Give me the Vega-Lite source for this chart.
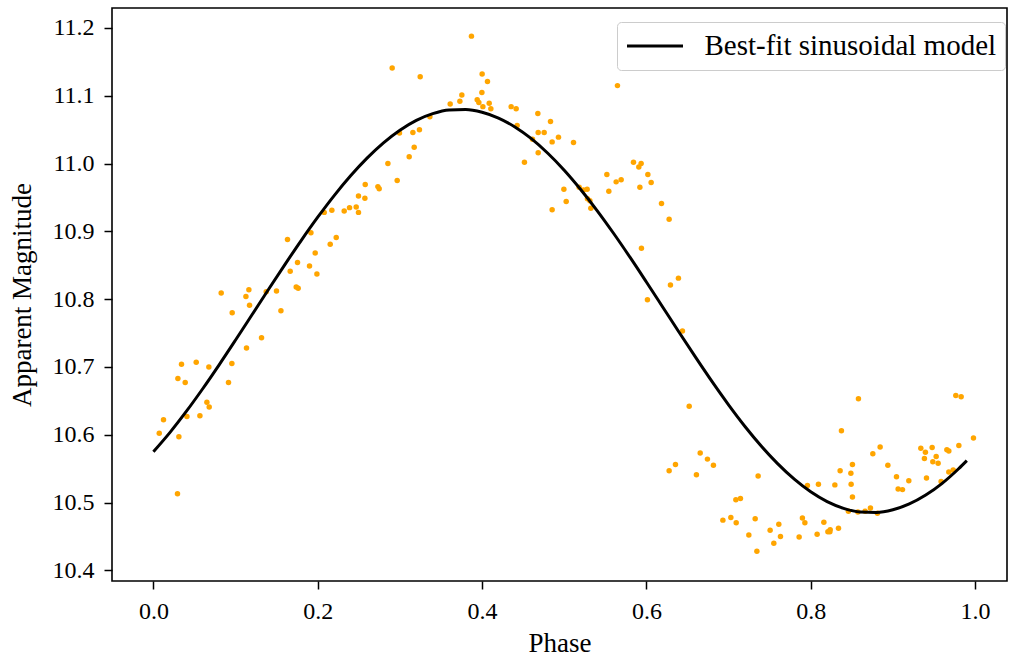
{
  "$schema": "https://vega.github.io/schema/vega-lite/v6.json",
  "width": 895,
  "height": 573,
  "autosize": {"type": "none"},
  "padding": {"left": 112, "top": 8, "right": 2, "bottom": 78},
  "background": "white",
  "config": {
    "view": {"stroke": "black", "strokeWidth": 1.6},
    "font": "Liberation Serif",
    "axis": {
      "labelFont": "Liberation Serif",
      "titleFont": "Liberation Serif",
      "labelFontSize": 24,
      "titleFontSize": 27,
      "titleFontWeight": "normal",
      "labelColor": "black",
      "titleColor": "black",
      "domain": false,
      "tickColor": "black",
      "tickSize": 8,
      "tickWidth": 1.5,
      "grid": false
    },
    "legend": {
      "labelFont": "Liberation Serif",
      "labelFontSize": 29,
      "labelColor": "black",
      "labelLimit": 600
    }
  },
  "datasets": {
    "obs": [
      {"phase": 0.2496, "mag": 10.952}, {"phase": 0.2079, "mag": 10.928}, {"phase": 0.2172, "mag": 10.931},
      {"phase": 0.2322, "mag": 10.930}, {"phase": 0.2387, "mag": 10.935}, {"phase": 0.2468, "mag": 10.936},
      {"phase": 0.2496, "mag": 10.928}, {"phase": 0.1632, "mag": 10.888}, {"phase": 0.1917, "mag": 10.898},
      {"phase": 0.2152, "mag": 10.881}, {"phase": 0.2225, "mag": 10.891}, {"phase": 0.1969, "mag": 10.868},
      {"phase": 0.1754, "mag": 10.854}, {"phase": 0.1665, "mag": 10.841}, {"phase": 0.1900, "mag": 10.849},
      {"phase": 0.1990, "mag": 10.837}, {"phase": 0.1738, "mag": 10.818}, {"phase": 0.1762, "mag": 10.816},
      {"phase": 0.0825, "mag": 10.809}, {"phase": 0.1162, "mag": 10.814}, {"phase": 0.1126, "mag": 10.804},
      {"phase": 0.1373, "mag": 10.811}, {"phase": 0.1498, "mag": 10.812}, {"phase": 0.1170, "mag": 10.791},
      {"phase": 0.0959, "mag": 10.780}, {"phase": 0.1552, "mag": 10.783}, {"phase": 0.1316, "mag": 10.743},
      {"phase": 0.1133, "mag": 10.728}, {"phase": 0.0342, "mag": 10.704}, {"phase": 0.0521, "mag": 10.707},
      {"phase": 0.0675, "mag": 10.700}, {"phase": 0.0955, "mag": 10.705}, {"phase": 0.0298, "mag": 10.683},
      {"phase": 0.0387, "mag": 10.677}, {"phase": 0.0914, "mag": 10.677}, {"phase": 0.0651, "mag": 10.648},
      {"phase": 0.0679, "mag": 10.641}, {"phase": 0.0123, "mag": 10.622}, {"phase": 0.0408, "mag": 10.627},
      {"phase": 0.0566, "mag": 10.628}, {"phase": 0.0071, "mag": 10.602}, {"phase": 0.0310, "mag": 10.597},
      {"phase": 0.0293, "mag": 10.513}, {"phase": 0.3871, "mag": 11.188}, {"phase": 0.2906, "mag": 11.141},
      {"phase": 0.3247, "mag": 11.128}, {"phase": 0.4001, "mag": 11.132}, {"phase": 0.4066, "mag": 11.121},
      {"phase": 0.3998, "mag": 11.105}, {"phase": 0.3754, "mag": 11.101}, {"phase": 0.3612, "mag": 11.088},
      {"phase": 0.3730, "mag": 11.092}, {"phase": 0.3941, "mag": 11.094}, {"phase": 0.3961, "mag": 11.090},
      {"phase": 0.4010, "mag": 11.084}, {"phase": 0.4087, "mag": 11.089}, {"phase": 0.4107, "mag": 11.081},
      {"phase": 0.4354, "mag": 11.084}, {"phase": 0.4415, "mag": 11.081}, {"phase": 0.3365, "mag": 11.069},
      {"phase": 0.4679, "mag": 11.074}, {"phase": 0.4833, "mag": 11.062}, {"phase": 0.4427, "mag": 11.056},
      {"phase": 0.2995, "mag": 11.045}, {"phase": 0.3158, "mag": 11.046}, {"phase": 0.3238, "mag": 11.050},
      {"phase": 0.4683, "mag": 11.046}, {"phase": 0.4756, "mag": 11.046}, {"phase": 0.4930, "mag": 11.039},
      {"phase": 0.4614, "mag": 11.036}, {"phase": 0.4853, "mag": 11.032}, {"phase": 0.5113, "mag": 11.031},
      {"phase": 0.3174, "mag": 11.024}, {"phase": 0.3113, "mag": 11.010}, {"phase": 0.4683, "mag": 11.016},
      {"phase": 0.4516, "mag": 11.002}, {"phase": 0.2854, "mag": 11.000}, {"phase": 0.2967, "mag": 10.975},
      {"phase": 0.2578, "mag": 10.969}, {"phase": 0.2732, "mag": 10.966}, {"phase": 0.2748, "mag": 10.963},
      {"phase": 0.2574, "mag": 10.949}, {"phase": 0.4853, "mag": 10.932}, {"phase": 0.4996, "mag": 10.962},
      {"phase": 0.5024, "mag": 10.944}, {"phase": 0.5182, "mag": 10.965}, {"phase": 0.5234, "mag": 10.961},
      {"phase": 0.5279, "mag": 10.962}, {"phase": 0.5283, "mag": 10.948}, {"phase": 0.5312, "mag": 10.945},
      {"phase": 0.5324, "mag": 10.934}, {"phase": 0.5519, "mag": 10.984}, {"phase": 0.5543, "mag": 10.959},
      {"phase": 0.5632, "mag": 10.973}, {"phase": 0.5693, "mag": 10.976}, {"phase": 0.5843, "mag": 11.002},
      {"phase": 0.5936, "mag": 11.000}, {"phase": 0.5908, "mag": 10.995}, {"phase": 0.6018, "mag": 10.984},
      {"phase": 0.6058, "mag": 10.972}, {"phase": 0.5921, "mag": 10.965}, {"phase": 0.6184, "mag": 10.941},
      {"phase": 0.6277, "mag": 10.918}, {"phase": 0.5940, "mag": 10.875}, {"phase": 0.6390, "mag": 10.831},
      {"phase": 0.6293, "mag": 10.821}, {"phase": 0.6013, "mag": 10.799}, {"phase": 0.6439, "mag": 10.753},
      {"phase": 0.5648, "mag": 11.115}, {"phase": 0.6521, "mag": 10.642}, {"phase": 0.8581, "mag": 10.653},
      {"phase": 0.9766, "mag": 10.658}, {"phase": 0.9831, "mag": 10.656}, {"phase": 0.8374, "mag": 10.606},
      {"phase": 0.9981, "mag": 10.595}, {"phase": 0.6655, "mag": 10.573}, {"phase": 0.6743, "mag": 10.564},
      {"phase": 0.6816, "mag": 10.555}, {"phase": 0.6354, "mag": 10.556}, {"phase": 0.6277, "mag": 10.547},
      {"phase": 0.6609, "mag": 10.541}, {"phase": 0.7360, "mag": 10.539}, {"phase": 0.8756, "mag": 10.572},
      {"phase": 0.8845, "mag": 10.582}, {"phase": 0.8939, "mag": 10.555}, {"phase": 0.8508, "mag": 10.556},
      {"phase": 0.8358, "mag": 10.547}, {"phase": 0.8489, "mag": 10.543}, {"phase": 0.9340, "mag": 10.580},
      {"phase": 0.9478, "mag": 10.581}, {"phase": 0.9396, "mag": 10.574}, {"phase": 0.9527, "mag": 10.568},
      {"phase": 0.9384, "mag": 10.565}, {"phase": 0.9486, "mag": 10.560}, {"phase": 0.9551, "mag": 10.558},
      {"phase": 0.9657, "mag": 10.578}, {"phase": 0.9681, "mag": 10.576}, {"phase": 0.9803, "mag": 10.584},
      {"phase": 0.9044, "mag": 10.538}, {"phase": 0.9409, "mag": 10.536}, {"phase": 0.9194, "mag": 10.532},
      {"phase": 0.9587, "mag": 10.531}, {"phase": 0.9681, "mag": 10.545}, {"phase": 0.9734, "mag": 10.548},
      {"phase": 0.9064, "mag": 10.520}, {"phase": 0.9117, "mag": 10.519}, {"phase": 0.7960, "mag": 10.525},
      {"phase": 0.8094, "mag": 10.527}, {"phase": 0.8294, "mag": 10.526}, {"phase": 0.8492, "mag": 10.527},
      {"phase": 0.8508, "mag": 10.508}, {"phase": 0.8459, "mag": 10.487}, {"phase": 0.8574, "mag": 10.486},
      {"phase": 0.8662, "mag": 10.487}, {"phase": 0.8727, "mag": 10.492}, {"phase": 0.8812, "mag": 10.484},
      {"phase": 0.7089, "mag": 10.504}, {"phase": 0.7145, "mag": 10.506}, {"phase": 0.6931, "mag": 10.474},
      {"phase": 0.7028, "mag": 10.478}, {"phase": 0.7093, "mag": 10.470}, {"phase": 0.7324, "mag": 10.476},
      {"phase": 0.7247, "mag": 10.452}, {"phase": 0.7506, "mag": 10.459}, {"phase": 0.7612, "mag": 10.468},
      {"phase": 0.7632, "mag": 10.450}, {"phase": 0.7551, "mag": 10.440}, {"phase": 0.7345, "mag": 10.428},
      {"phase": 0.7899, "mag": 10.477}, {"phase": 0.7929, "mag": 10.470}, {"phase": 0.8160, "mag": 10.471},
      {"phase": 0.7859, "mag": 10.449}, {"phase": 0.8078, "mag": 10.453}, {"phase": 0.8209, "mag": 10.457},
      {"phase": 0.8237, "mag": 10.460}, {"phase": 0.8233, "mag": 10.457}, {"phase": 0.8338, "mag": 10.462}
    ],
    "model": [
      {"phase": 0.00, "mag": 10.5749, "series": "Best-fit sinusoidal model"},
      {"phase": 0.02, "mag": 10.6031, "series": "Best-fit sinusoidal model"},
      {"phase": 0.04, "mag": 10.6343, "series": "Best-fit sinusoidal model"},
      {"phase": 0.06, "mag": 10.6678, "series": "Best-fit sinusoidal model"},
      {"phase": 0.08, "mag": 10.7031, "series": "Best-fit sinusoidal model"},
      {"phase": 0.10, "mag": 10.7397, "series": "Best-fit sinusoidal model"},
      {"phase": 0.12, "mag": 10.7769, "series": "Best-fit sinusoidal model"},
      {"phase": 0.14, "mag": 10.8142, "series": "Best-fit sinusoidal model"},
      {"phase": 0.16, "mag": 10.8510, "series": "Best-fit sinusoidal model"},
      {"phase": 0.18, "mag": 10.8868, "series": "Best-fit sinusoidal model"},
      {"phase": 0.20, "mag": 10.9209, "series": "Best-fit sinusoidal model"},
      {"phase": 0.22, "mag": 10.9528, "series": "Best-fit sinusoidal model"},
      {"phase": 0.24, "mag": 10.9820, "series": "Best-fit sinusoidal model"},
      {"phase": 0.26, "mag": 11.0080, "series": "Best-fit sinusoidal model"},
      {"phase": 0.28, "mag": 11.0306, "series": "Best-fit sinusoidal model"},
      {"phase": 0.30, "mag": 11.0492, "series": "Best-fit sinusoidal model"},
      {"phase": 0.32, "mag": 11.0637, "series": "Best-fit sinusoidal model"},
      {"phase": 0.34, "mag": 11.0736, "series": "Best-fit sinusoidal model"},
      {"phase": 0.36, "mag": 11.0790, "series": "Best-fit sinusoidal model"},
      {"phase": 0.38, "mag": 11.0797, "series": "Best-fit sinusoidal model"},
      {"phase": 0.40, "mag": 11.0757, "series": "Best-fit sinusoidal model"},
      {"phase": 0.42, "mag": 11.0671, "series": "Best-fit sinusoidal model"},
      {"phase": 0.44, "mag": 11.0540, "series": "Best-fit sinusoidal model"},
      {"phase": 0.46, "mag": 11.0367, "series": "Best-fit sinusoidal model"},
      {"phase": 0.48, "mag": 11.0152, "series": "Best-fit sinusoidal model"},
      {"phase": 0.50, "mag": 10.9902, "series": "Best-fit sinusoidal model"},
      {"phase": 0.52, "mag": 10.9618, "series": "Best-fit sinusoidal model"},
      {"phase": 0.54, "mag": 10.9307, "series": "Best-fit sinusoidal model"},
      {"phase": 0.56, "mag": 10.8972, "series": "Best-fit sinusoidal model"},
      {"phase": 0.58, "mag": 10.8619, "series": "Best-fit sinusoidal model"},
      {"phase": 0.60, "mag": 10.8253, "series": "Best-fit sinusoidal model"},
      {"phase": 0.62, "mag": 10.7881, "series": "Best-fit sinusoidal model"},
      {"phase": 0.64, "mag": 10.7508, "series": "Best-fit sinusoidal model"},
      {"phase": 0.66, "mag": 10.7140, "series": "Best-fit sinusoidal model"},
      {"phase": 0.68, "mag": 10.6782, "series": "Best-fit sinusoidal model"},
      {"phase": 0.70, "mag": 10.6441, "series": "Best-fit sinusoidal model"},
      {"phase": 0.72, "mag": 10.6122, "series": "Best-fit sinusoidal model"},
      {"phase": 0.74, "mag": 10.5830, "series": "Best-fit sinusoidal model"},
      {"phase": 0.76, "mag": 10.5570, "series": "Best-fit sinusoidal model"},
      {"phase": 0.78, "mag": 10.5344, "series": "Best-fit sinusoidal model"},
      {"phase": 0.80, "mag": 10.5158, "series": "Best-fit sinusoidal model"},
      {"phase": 0.82, "mag": 10.5013, "series": "Best-fit sinusoidal model"},
      {"phase": 0.84, "mag": 10.4914, "series": "Best-fit sinusoidal model"},
      {"phase": 0.86, "mag": 10.4860, "series": "Best-fit sinusoidal model"},
      {"phase": 0.88, "mag": 10.4853, "series": "Best-fit sinusoidal model"},
      {"phase": 0.90, "mag": 10.4893, "series": "Best-fit sinusoidal model"},
      {"phase": 0.92, "mag": 10.4979, "series": "Best-fit sinusoidal model"},
      {"phase": 0.94, "mag": 10.5110, "series": "Best-fit sinusoidal model"},
      {"phase": 0.96, "mag": 10.5283, "series": "Best-fit sinusoidal model"},
      {"phase": 0.98, "mag": 10.5498, "series": "Best-fit sinusoidal model"},
      {"phase": 0.99, "mag": 10.5618, "series": "Best-fit sinusoidal model"}
    ]
  },
  "layer": [
    {
      "data": {"name": "obs"},
      "mark": {"type": "circle", "size": 30, "color": "#ffa500", "opacity": 1},
      "encoding": {
        "x": {
          "field": "phase", "type": "quantitative",
          "scale": {"domain": [-0.0504, 1.0389], "nice": false, "zero": false},
          "axis": {"values": [0, 0.2, 0.4, 0.6, 0.8, 1.0], "format": ".1f", "title": "Phase", "labelPadding": 10, "titlePadding": 7}
        },
        "y": {
          "field": "mag", "type": "quantitative",
          "scale": {"domain": [10.3842, 11.2295], "nice": false, "zero": false},
          "axis": {"values": [10.4, 10.5, 10.6, 10.7, 10.8, 10.9, 11.0, 11.1, 11.2], "format": ".1f", "title": "Apparent Magnitude", "labelPadding": 10, "titlePadding": 16}
        }
      }
    },
    {
      "data": {"name": "model"},
      "mark": {"type": "line", "strokeWidth": 3, "interpolate": "monotone"},
      "encoding": {
        "x": {"field": "phase", "type": "quantitative"},
        "y": {"field": "mag", "type": "quantitative"},
        "color": {
          "field": "series", "type": "nominal",
          "scale": {"domain": ["Best-fit sinusoidal model"], "range": ["black"]},
          "legend": {
            "title": null,
            "orient": "none",
            "legendX": 505,
            "legendY": 14,
            "padding": 8.5,
            "fillColor": "white",
            "strokeColor": "#cccccc",
            "cornerRadius": 4,
            "symbolType": "M-1,0L3,0",
            "symbolSize": 784,
            "symbolStrokeWidth": 3,
            "labelOffset": 48,
            "labelLimit": 600
          }
        }
      }
    }
  ]
}
